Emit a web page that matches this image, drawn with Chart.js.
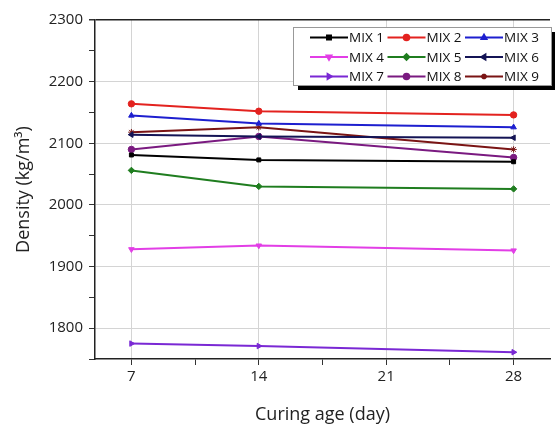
<!DOCTYPE html>
<html>
<head>
<meta charset="utf-8">
<script src="https://cdn.jsdelivr.net/npm/chart.js@4"></script>
<style>
  body { margin: 0; background: #fff; }
  #wrap { width: 555px; height: 427px; }
</style>
</head>
<body>
<div id="wrap"><canvas id="line-chart"></canvas></div>
<script>
// curing ages (day) where density was measured
const ages = [7, 14, 28];
const names = ['MIX 1', 'MIX 2', 'MIX 3', 'MIX 4', 'MIX 5', 'MIX 6', 'MIX 7', 'MIX 8', 'MIX 9'];
const mix1 = [2081, 2073, 2070];
const mix2 = [2164, 2152, 2146];
const mix3 = [2145, 2132, 2126];
const mix4 = [1928, 1934, 1926];
const mix5 = [2056, 2030, 2026];
const mix6 = [2114, 2111, 2109];
const mix7 = [1775, 1771, 1761];
const mix8 = [2090, 2111, 2077];
const mix9 = [2118, 2126, 2090];
const xTicks = [7, 10.5, 14, 17.5, 21, 24.5, 28];

const colors = ['#000000', '#e3221f', '#1d1fcf', '#e23ee6', '#1f7d1f', '#141455', '#7a28d4', '#7a1a80', '#7a1414'];
const markers = ['rect', 'circle', 'triangle', 'triangle', 'rectRot', 'triangle', 'triangle', 'circle', 'star'];
const rotations = [0, 0, 0, 180, 0, 270, 90, 0, 0];

const allSeries = [mix1, mix2, mix3, mix4, mix5, mix6, mix7, mix8, mix9];
const datasets = allSeries.map((vals, i) => ({
  label: names[i],
  data: vals.map((v, j) => ({ x: ages[j], y: v })),
  borderColor: colors[i],
  backgroundColor: colors[i],
  borderWidth: 2,
  pointStyle: markers[i],
  pointRotation: rotations[i],
  pointRadius: markers[i] == 'rect' ? 2.8 : 3.2,
  pointBorderWidth: 1,
  fill: false,
  tension: 0
}));

// legend with line + marker, drawn inside the plot like Origin does
const boxLegend = {
  id: 'boxLegend',
  afterDatasetsDraw(chart) {
    const ctx = chart.ctx;
    const bx = 293, by = 27, bw = 258, bh = 58;
    ctx.save();
    ctx.fillStyle = '#000';
    ctx.fillRect(bx + 5, by + 5, bw, bh);
    ctx.fillStyle = '#fff';
    ctx.fillRect(bx, by, bw, bh);
    ctx.strokeStyle = '#999';
    ctx.lineWidth = 1;
    ctx.strokeRect(bx + 0.5, by + 0.5, bw, bh);
    ctx.font = '13.5px "Open Sans"';
    ctx.textBaseline = 'middle';
    chart.data.datasets.forEach((ds, i) => {
      const col = i % 3, row = Math.floor(i / 3);
      const x = 310 + col * 77.5;
      const y = 37.5 + row * 19.5;
      ctx.strokeStyle = ds.borderColor;
      ctx.lineWidth = 2;
      ctx.beginPath();
      ctx.moveTo(x, y);
      ctx.lineTo(x + 38, y);
      ctx.stroke();
      ctx.fillStyle = ds.backgroundColor;
      Chart.helpers.drawPoint(ctx, { pointStyle: ds.pointStyle, rotation: ds.pointRotation, radius: 2.8, borderWidth: 1 }, x + 19, y);
      ctx.fillStyle = '#111';
      ctx.fillText(ds.label, x + 39, y + 1);
    });
    ctx.restore();
  }
};

new Chart(document.getElementById('line-chart'), {
  type: 'line',
  data: { datasets },
  options: {
    responsive: true,
    maintainAspectRatio: false,
    animation: false,
    layout: { padding: { top: 20, right: 0, left: 0, bottom: 0 } },
    plugins: {
      legend: { display: false },
      tooltip: { enabled: false }
    },
    scales: {
      x: {
        type: 'linear',
        min: 5,
        max: 30,
        afterBuildTicks: s => { s.ticks = xTicks.map(v => ({ value: v })); },
        afterFit: s => { s.height = 68; },
        border: { color: '#222', width: 1.5 },
        grid: {
          color: c => (c.tick && c.tick.value % 7 === 0) ? '#d4d4d4' : 'rgba(0,0,0,0)',
          tickColor: '#333',
          tickLength: 6
        },
        ticks: {
          color: '#222',
          font: { family: 'Open Sans', size: 15 },
          padding: 3,
          maxRotation: 0,
          callback: v => (v % 7 === 0 ? v : '')
        },
        title: {
          display: true,
          text: 'Curing age (day)',
          color: '#222',
          font: { family: 'Open Sans', size: 18 },
          padding: { top: 0, bottom: 1 }
        }
      },
      y: {
        min: 1750,
        max: 2300,
        afterFit: s => { s.width = 95; },
        border: { color: '#222', width: 1.5 },
        grid: {
          color: c => {
            if (!c.tick) return 'rgba(0,0,0,0)';
            if (c.tick.value === 2300) return '#222';
            return c.tick.value % 100 === 0 ? '#d4d4d4' : 'rgba(0,0,0,0)';
          },
          lineWidth: c => (c.tick && c.tick.value === 2300 ? 1.5 : 1),
          tickColor: '#333',
          tickLength: 6
        },
        ticks: {
          stepSize: 50,
          color: '#222',
          font: { family: 'Open Sans', size: 15 },
          padding: 6,
          callback: v => (v % 100 === 0 ? v : '')
        },
        title: {
          display: true,
          text: 'Density (kg/m³)',
          color: '#222',
          font: { family: 'Open Sans', size: 18 },
          padding: { top: 13, bottom: 0 }
        }
      }
    }
  },
  plugins: [boxLegend]
});
</script>
</body>
</html>
